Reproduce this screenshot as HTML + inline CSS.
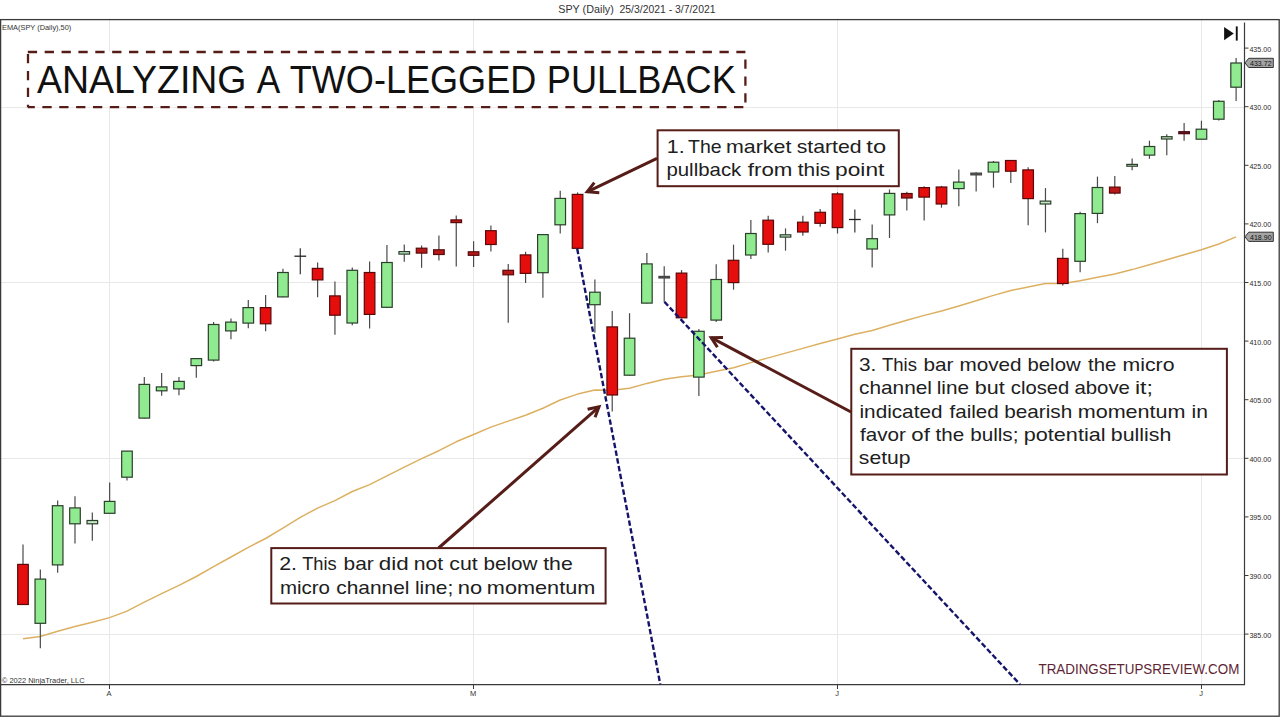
<!DOCTYPE html>
<html><head><meta charset="utf-8"><title>SPY Two-Legged Pullback</title>
<style>
html,body{margin:0;padding:0;background:#fff;}
body{width:1280px;height:717px;position:relative;overflow:hidden;font-family:"Liberation Sans",sans-serif;}
svg text{font-family:"Liberation Sans",sans-serif;}
</style></head><body>
<svg width="1280" height="717" viewBox="0 0 1280 717" style="position:absolute;left:0;top:0">
<text x="558.2" y="13.3" font-size="10.6" fill="#333" textLength="55.6" lengthAdjust="spacingAndGlyphs">SPY (Daily)</text>
<text x="619.5" y="13.3" font-size="10.6" fill="#333" textLength="96" lengthAdjust="spacingAndGlyphs">25/3/2021 - 3/7/2021</text>
<line x1="1" y1="634.5" x2="1244" y2="634.5" stroke="#e8e8e8" stroke-width="1"/>
<line x1="1" y1="458.5" x2="1244" y2="458.5" stroke="#e8e8e8" stroke-width="1"/>
<line x1="1" y1="282.5" x2="1244" y2="282.5" stroke="#e8e8e8" stroke-width="1"/>
<line x1="1" y1="107.5" x2="1244" y2="107.5" stroke="#e8e8e8" stroke-width="1"/>
<line x1="109.5" y1="20" x2="109.5" y2="684" stroke="#e8e8e8" stroke-width="1"/>
<line x1="473.5" y1="20" x2="473.5" y2="684" stroke="#e8e8e8" stroke-width="1"/>
<line x1="837.5" y1="20" x2="837.5" y2="684" stroke="#e8e8e8" stroke-width="1"/>
<line x1="1201.5" y1="20" x2="1201.5" y2="684" stroke="#e8e8e8" stroke-width="1"/>
<rect x="0.6" y="19.6" width="1278.6" height="696.6" fill="none" stroke="#3a3a3a" stroke-width="1.3"/>
<line x1="1244.5" y1="22.5" x2="1244.5" y2="685" stroke="#3a3a3a" stroke-width="1.2"/>
<line x1="0" y1="684.6" x2="1245" y2="684.6" stroke="#3a3a3a" stroke-width="1.3"/>
<line x1="1244.5" y1="634.1" x2="1248.5" y2="634.1" stroke="#3a3a3a" stroke-width="1"/>
<text x="1249.4" y="637.5" font-size="7.4" fill="#2a2a2a" textLength="21.8" lengthAdjust="spacingAndGlyphs">385.00</text>
<line x1="1244.5" y1="575.5" x2="1248.5" y2="575.5" stroke="#3a3a3a" stroke-width="1"/>
<text x="1249.4" y="578.9" font-size="7.4" fill="#2a2a2a" textLength="21.8" lengthAdjust="spacingAndGlyphs">390.00</text>
<line x1="1244.5" y1="516.9" x2="1248.5" y2="516.9" stroke="#3a3a3a" stroke-width="1"/>
<text x="1249.4" y="520.3" font-size="7.4" fill="#2a2a2a" textLength="21.8" lengthAdjust="spacingAndGlyphs">395.00</text>
<line x1="1244.5" y1="458.3" x2="1248.5" y2="458.3" stroke="#3a3a3a" stroke-width="1"/>
<text x="1249.4" y="461.7" font-size="7.4" fill="#2a2a2a" textLength="21.8" lengthAdjust="spacingAndGlyphs">400.00</text>
<line x1="1244.5" y1="399.7" x2="1248.5" y2="399.7" stroke="#3a3a3a" stroke-width="1"/>
<text x="1249.4" y="403.1" font-size="7.4" fill="#2a2a2a" textLength="21.8" lengthAdjust="spacingAndGlyphs">405.00</text>
<line x1="1244.5" y1="341.1" x2="1248.5" y2="341.1" stroke="#3a3a3a" stroke-width="1"/>
<text x="1249.4" y="344.5" font-size="7.4" fill="#2a2a2a" textLength="21.8" lengthAdjust="spacingAndGlyphs">410.00</text>
<line x1="1244.5" y1="282.5" x2="1248.5" y2="282.5" stroke="#3a3a3a" stroke-width="1"/>
<text x="1249.4" y="285.9" font-size="7.4" fill="#2a2a2a" textLength="21.8" lengthAdjust="spacingAndGlyphs">415.00</text>
<line x1="1244.5" y1="223.9" x2="1248.5" y2="223.9" stroke="#3a3a3a" stroke-width="1"/>
<text x="1249.4" y="227.3" font-size="7.4" fill="#2a2a2a" textLength="21.8" lengthAdjust="spacingAndGlyphs">420.00</text>
<line x1="1244.5" y1="165.3" x2="1248.5" y2="165.3" stroke="#3a3a3a" stroke-width="1"/>
<text x="1249.4" y="168.7" font-size="7.4" fill="#2a2a2a" textLength="21.8" lengthAdjust="spacingAndGlyphs">425.00</text>
<line x1="1244.5" y1="106.7" x2="1248.5" y2="106.7" stroke="#3a3a3a" stroke-width="1"/>
<text x="1249.4" y="110.1" font-size="7.4" fill="#2a2a2a" textLength="21.8" lengthAdjust="spacingAndGlyphs">430.00</text>
<line x1="1244.5" y1="48.1" x2="1248.5" y2="48.1" stroke="#3a3a3a" stroke-width="1"/>
<text x="1249.4" y="51.5" font-size="7.4" fill="#2a2a2a" textLength="21.8" lengthAdjust="spacingAndGlyphs">435.00</text>
<line x1="109.5" y1="684.6" x2="109.5" y2="689" stroke="#3a3a3a" stroke-width="1"/>
<text x="109.1" y="696.0" font-size="7.5" fill="#333" text-anchor="middle">A</text>
<line x1="473.5" y1="684.6" x2="473.5" y2="689" stroke="#3a3a3a" stroke-width="1"/>
<text x="473.1" y="696.0" font-size="7.5" fill="#333" text-anchor="middle">M</text>
<line x1="837.5" y1="684.6" x2="837.5" y2="689" stroke="#3a3a3a" stroke-width="1"/>
<text x="837.1" y="696.0" font-size="7.5" fill="#333" text-anchor="middle">J</text>
<line x1="1201.5" y1="684.6" x2="1201.5" y2="689" stroke="#3a3a3a" stroke-width="1"/>
<text x="1201.1" y="696.0" font-size="7.5" fill="#333" text-anchor="middle">J</text>
<text x="2" y="30.2" font-size="7.4" fill="#333" textLength="69.3" lengthAdjust="spacingAndGlyphs">EMA(SPY (Daily),50)</text>
<text x="1.8" y="682.8" font-size="7.4" fill="#333" textLength="82.8" lengthAdjust="spacingAndGlyphs">© 2022 NinjaTrader, LLC</text>
<polyline points="23.0,638.8 40.3,636.5 57.7,631.3 75.0,626.5 92.3,622.3 109.6,617.6 127.0,611.1 144.3,602.2 161.6,593.7 179.0,585.4 196.3,576.5 213.6,566.6 231.0,557.0 248.3,547.3 265.6,538.5 282.9,528.1 300.3,517.4 317.6,508.1 334.9,500.6 352.3,491.5 369.6,484.6 386.9,475.9 404.3,467.1 421.6,458.7 438.9,450.7 456.2,441.8 473.6,434.5 490.9,427.1 508.2,421.1 525.6,415.3 542.9,408.2 560.2,400.0 577.6,394.1 594.9,390.1 612.2,390.3 629.5,388.3 646.9,383.4 664.2,379.2 681.5,376.8 698.9,375.0 716.2,371.3 733.5,367.8 750.9,362.6 768.2,357.9 785.5,353.1 802.8,348.4 820.2,343.5 837.5,339.0 854.8,334.3 872.2,330.5 889.5,325.2 906.8,320.2 924.2,315.4 941.5,311.0 958.8,306.0 976.1,300.8 993.5,295.4 1010.8,290.5 1028.1,286.9 1045.5,283.6 1062.8,283.6 1080.1,280.8 1097.5,277.2 1114.8,273.9 1132.1,269.6 1149.4,264.8 1166.8,259.7 1184.1,254.8 1201.4,249.8 1218.8,244.0 1236.1,236.9" fill="none" stroke="#dcb060" stroke-width="1.5" stroke-linejoin="round"/>
<line x1="23.00" y1="544.4" x2="23.00" y2="604.9" stroke="#4a4a4a" stroke-width="1.2"/>
<rect x="17.70" y="564.4" width="10.6" height="40.1" fill="#e60d0d" stroke="#5a0808" stroke-width="1.2"/>
<line x1="40.33" y1="569.6" x2="40.33" y2="648.2" stroke="#4a4a4a" stroke-width="1.2"/>
<rect x="35.03" y="579.1" width="10.6" height="44.2" fill="#90ea90" stroke="#2c3e2c" stroke-width="1.2"/>
<line x1="57.66" y1="500.5" x2="57.66" y2="572.7" stroke="#4a4a4a" stroke-width="1.2"/>
<rect x="52.36" y="505.7" width="10.6" height="59.2" fill="#90ea90" stroke="#2c3e2c" stroke-width="1.2"/>
<line x1="74.99" y1="496.2" x2="74.99" y2="543.5" stroke="#4a4a4a" stroke-width="1.2"/>
<rect x="69.69" y="507.9" width="10.6" height="15.9" fill="#90ea90" stroke="#2c3e2c" stroke-width="1.2"/>
<line x1="92.32" y1="512.5" x2="92.32" y2="540.7" stroke="#4a4a4a" stroke-width="1.2"/>
<rect x="87.02" y="520.5" width="10.6" height="3.3" fill="#c2e8c2" stroke="#2c3e2c" stroke-width="1.2"/>
<line x1="109.65" y1="482.4" x2="109.65" y2="513.7" stroke="#4a4a4a" stroke-width="1.2"/>
<rect x="104.35" y="501.4" width="10.6" height="11.9" fill="#90ea90" stroke="#2c3e2c" stroke-width="1.2"/>
<line x1="126.98" y1="451.0" x2="126.98" y2="480.5" stroke="#4a4a4a" stroke-width="1.2"/>
<rect x="121.68" y="451.1" width="10.6" height="26.1" fill="#90ea90" stroke="#2c3e2c" stroke-width="1.2"/>
<line x1="144.31" y1="377.0" x2="144.31" y2="418.5" stroke="#4a4a4a" stroke-width="1.2"/>
<rect x="139.01" y="384.4" width="10.6" height="33.7" fill="#90ea90" stroke="#2c3e2c" stroke-width="1.2"/>
<line x1="161.64" y1="373.1" x2="161.64" y2="395.8" stroke="#4a4a4a" stroke-width="1.2"/>
<rect x="156.34" y="386.9" width="10.6" height="3.9" fill="#90ea90" stroke="#2c3e2c" stroke-width="1.2"/>
<line x1="178.97" y1="377.0" x2="178.97" y2="395.2" stroke="#4a4a4a" stroke-width="1.2"/>
<rect x="173.67" y="381.4" width="10.6" height="7.5" fill="#90ea90" stroke="#2c3e2c" stroke-width="1.2"/>
<line x1="196.30" y1="358.0" x2="196.30" y2="377.7" stroke="#4a4a4a" stroke-width="1.2"/>
<rect x="191.00" y="358.6" width="10.6" height="7.0" fill="#90ea90" stroke="#2c3e2c" stroke-width="1.2"/>
<line x1="213.63" y1="322.0" x2="213.63" y2="361.4" stroke="#4a4a4a" stroke-width="1.2"/>
<rect x="208.33" y="324.5" width="10.6" height="35.6" fill="#90ea90" stroke="#2c3e2c" stroke-width="1.2"/>
<line x1="230.96" y1="318.4" x2="230.96" y2="339.3" stroke="#4a4a4a" stroke-width="1.2"/>
<rect x="225.66" y="322.1" width="10.6" height="8.8" fill="#90ea90" stroke="#2c3e2c" stroke-width="1.2"/>
<line x1="248.29" y1="300.0" x2="248.29" y2="328.3" stroke="#4a4a4a" stroke-width="1.2"/>
<rect x="242.99" y="307.6" width="10.6" height="15.5" fill="#90ea90" stroke="#2c3e2c" stroke-width="1.2"/>
<line x1="265.62" y1="295.1" x2="265.62" y2="331.3" stroke="#4a4a4a" stroke-width="1.2"/>
<rect x="260.32" y="307.6" width="10.6" height="16.2" fill="#e60d0d" stroke="#5a0808" stroke-width="1.2"/>
<line x1="282.95" y1="268.8" x2="282.95" y2="297.3" stroke="#4a4a4a" stroke-width="1.2"/>
<rect x="277.65" y="272.5" width="10.6" height="24.4" fill="#90ea90" stroke="#2c3e2c" stroke-width="1.2"/>
<line x1="300.28" y1="248.2" x2="300.28" y2="274.2" stroke="#333" stroke-width="1.2"/>
<line x1="294.38" y1="256.2" x2="306.18" y2="256.2" stroke="#222" stroke-width="1.3"/>
<line x1="317.61" y1="262.5" x2="317.61" y2="297.3" stroke="#4a4a4a" stroke-width="1.2"/>
<rect x="312.31" y="268.4" width="10.6" height="11.5" fill="#e60d0d" stroke="#5a0808" stroke-width="1.2"/>
<line x1="334.94" y1="281.4" x2="334.94" y2="334.8" stroke="#4a4a4a" stroke-width="1.2"/>
<rect x="329.64" y="295.9" width="10.6" height="19.3" fill="#e60d0d" stroke="#5a0808" stroke-width="1.2"/>
<line x1="352.27" y1="267.4" x2="352.27" y2="325.2" stroke="#4a4a4a" stroke-width="1.2"/>
<rect x="346.97" y="270.3" width="10.6" height="52.7" fill="#90ea90" stroke="#2c3e2c" stroke-width="1.2"/>
<line x1="369.60" y1="261.5" x2="369.60" y2="328.5" stroke="#4a4a4a" stroke-width="1.2"/>
<rect x="364.30" y="272.5" width="10.6" height="41.9" fill="#e60d0d" stroke="#5a0808" stroke-width="1.2"/>
<line x1="386.93" y1="244.9" x2="386.93" y2="307.7" stroke="#4a4a4a" stroke-width="1.2"/>
<rect x="381.63" y="262.5" width="10.6" height="44.8" fill="#90ea90" stroke="#2c3e2c" stroke-width="1.2"/>
<line x1="404.26" y1="244.5" x2="404.26" y2="261.7" stroke="#4a4a4a" stroke-width="1.2"/>
<rect x="398.96" y="251.6" width="10.6" height="2.5" fill="#c2e8c2" stroke="#2c3e2c" stroke-width="1.2"/>
<line x1="421.59" y1="245.5" x2="421.59" y2="267.8" stroke="#4a4a4a" stroke-width="1.2"/>
<rect x="416.29" y="248.2" width="10.6" height="4.9" fill="#b81818" stroke="#5a0808" stroke-width="1.2"/>
<line x1="438.92" y1="235.4" x2="438.92" y2="260.5" stroke="#4a4a4a" stroke-width="1.2"/>
<rect x="433.62" y="249.8" width="10.6" height="4.7" fill="#b81818" stroke="#5a0808" stroke-width="1.2"/>
<line x1="456.25" y1="215.6" x2="456.25" y2="266.4" stroke="#4a4a4a" stroke-width="1.2"/>
<rect x="450.95" y="219.9" width="10.6" height="2.7" fill="#b81818" stroke="#5a0808" stroke-width="1.2"/>
<line x1="473.58" y1="241.2" x2="473.58" y2="267.0" stroke="#4a4a4a" stroke-width="1.2"/>
<rect x="468.28" y="251.8" width="10.6" height="3.5" fill="#b81818" stroke="#5a0808" stroke-width="1.2"/>
<line x1="490.91" y1="225.4" x2="490.91" y2="251.6" stroke="#4a4a4a" stroke-width="1.2"/>
<rect x="485.61" y="230.7" width="10.6" height="13.8" fill="#e60d0d" stroke="#5a0808" stroke-width="1.2"/>
<line x1="508.24" y1="263.9" x2="508.24" y2="322.7" stroke="#4a4a4a" stroke-width="1.2"/>
<rect x="502.94" y="270.3" width="10.6" height="4.5" fill="#b81818" stroke="#5a0808" stroke-width="1.2"/>
<line x1="525.57" y1="251.8" x2="525.57" y2="283.0" stroke="#4a4a4a" stroke-width="1.2"/>
<rect x="520.27" y="254.9" width="10.6" height="18.5" fill="#e60d0d" stroke="#5a0808" stroke-width="1.2"/>
<line x1="542.90" y1="234.0" x2="542.90" y2="297.8" stroke="#4a4a4a" stroke-width="1.2"/>
<rect x="537.60" y="234.6" width="10.6" height="38.1" fill="#90ea90" stroke="#2c3e2c" stroke-width="1.2"/>
<line x1="560.23" y1="190.7" x2="560.23" y2="233.6" stroke="#4a4a4a" stroke-width="1.2"/>
<rect x="554.93" y="198.4" width="10.6" height="26.4" fill="#90ea90" stroke="#2c3e2c" stroke-width="1.2"/>
<line x1="577.56" y1="192.4" x2="577.56" y2="248.7" stroke="#4a4a4a" stroke-width="1.2"/>
<rect x="572.26" y="194.4" width="10.6" height="53.9" fill="#e60d0d" stroke="#5a0808" stroke-width="1.2"/>
<line x1="594.89" y1="279.4" x2="594.89" y2="332.8" stroke="#4a4a4a" stroke-width="1.2"/>
<rect x="589.59" y="292.2" width="10.6" height="12.5" fill="#90ea90" stroke="#2c3e2c" stroke-width="1.2"/>
<line x1="612.22" y1="311.0" x2="612.22" y2="411.6" stroke="#4a4a4a" stroke-width="1.2"/>
<rect x="606.92" y="326.9" width="10.6" height="68.1" fill="#e60d0d" stroke="#5a0808" stroke-width="1.2"/>
<line x1="629.55" y1="313.2" x2="629.55" y2="375.6" stroke="#4a4a4a" stroke-width="1.2"/>
<rect x="624.25" y="338.2" width="10.6" height="37.0" fill="#90ea90" stroke="#2c3e2c" stroke-width="1.2"/>
<line x1="646.88" y1="253.0" x2="646.88" y2="303.5" stroke="#4a4a4a" stroke-width="1.2"/>
<rect x="641.58" y="263.9" width="10.6" height="39.2" fill="#90ea90" stroke="#2c3e2c" stroke-width="1.2"/>
<line x1="664.21" y1="266.2" x2="664.21" y2="301.8" stroke="#4a4a4a" stroke-width="1.2"/>
<rect x="658.91" y="276.4" width="10.6" height="1.6" fill="#555" stroke="#444" stroke-width="1.2"/>
<line x1="681.54" y1="270.1" x2="681.54" y2="318.2" stroke="#4a4a4a" stroke-width="1.2"/>
<rect x="676.24" y="273.1" width="10.6" height="44.7" fill="#e60d0d" stroke="#5a0808" stroke-width="1.2"/>
<line x1="698.87" y1="329.0" x2="698.87" y2="396.0" stroke="#4a4a4a" stroke-width="1.2"/>
<rect x="693.57" y="331.3" width="10.6" height="45.8" fill="#90ea90" stroke="#2c3e2c" stroke-width="1.2"/>
<line x1="716.20" y1="264.2" x2="716.20" y2="322.0" stroke="#4a4a4a" stroke-width="1.2"/>
<rect x="710.90" y="279.5" width="10.6" height="40.6" fill="#90ea90" stroke="#2c3e2c" stroke-width="1.2"/>
<line x1="733.53" y1="244.6" x2="733.53" y2="289.7" stroke="#4a4a4a" stroke-width="1.2"/>
<rect x="728.23" y="260.3" width="10.6" height="22.3" fill="#e60d0d" stroke="#5a0808" stroke-width="1.2"/>
<line x1="750.86" y1="220.1" x2="750.86" y2="258.9" stroke="#4a4a4a" stroke-width="1.2"/>
<rect x="745.56" y="233.5" width="10.6" height="21.5" fill="#90ea90" stroke="#2c3e2c" stroke-width="1.2"/>
<line x1="768.19" y1="215.7" x2="768.19" y2="252.5" stroke="#4a4a4a" stroke-width="1.2"/>
<rect x="762.89" y="220.2" width="10.6" height="24.1" fill="#e60d0d" stroke="#5a0808" stroke-width="1.2"/>
<line x1="785.52" y1="228.4" x2="785.52" y2="250.7" stroke="#4a4a4a" stroke-width="1.2"/>
<rect x="780.22" y="234.8" width="10.6" height="2.3" fill="#c2e8c2" stroke="#2c3e2c" stroke-width="1.2"/>
<line x1="802.85" y1="215.7" x2="802.85" y2="235.7" stroke="#4a4a4a" stroke-width="1.2"/>
<rect x="797.55" y="222.2" width="10.6" height="9.8" fill="#e60d0d" stroke="#5a0808" stroke-width="1.2"/>
<line x1="820.18" y1="209.0" x2="820.18" y2="226.8" stroke="#4a4a4a" stroke-width="1.2"/>
<rect x="814.88" y="212.3" width="10.6" height="11.0" fill="#e60d0d" stroke="#5a0808" stroke-width="1.2"/>
<line x1="837.51" y1="192.1" x2="837.51" y2="233.5" stroke="#4a4a4a" stroke-width="1.2"/>
<rect x="832.21" y="193.9" width="10.6" height="33.7" fill="#e60d0d" stroke="#5a0808" stroke-width="1.2"/>
<line x1="854.84" y1="209.4" x2="854.84" y2="232.6" stroke="#333" stroke-width="1.2"/>
<line x1="848.94" y1="219.5" x2="860.74" y2="219.5" stroke="#222" stroke-width="1.3"/>
<line x1="872.17" y1="224.4" x2="872.17" y2="267.6" stroke="#4a4a4a" stroke-width="1.2"/>
<rect x="866.87" y="238.7" width="10.6" height="10.3" fill="#90ea90" stroke="#2c3e2c" stroke-width="1.2"/>
<line x1="889.50" y1="189.5" x2="889.50" y2="238.0" stroke="#4a4a4a" stroke-width="1.2"/>
<rect x="884.20" y="193.4" width="10.6" height="21.5" fill="#90ea90" stroke="#2c3e2c" stroke-width="1.2"/>
<line x1="906.83" y1="191.7" x2="906.83" y2="210.4" stroke="#4a4a4a" stroke-width="1.2"/>
<rect x="901.53" y="193.5" width="10.6" height="4.5" fill="#b81818" stroke="#5a0808" stroke-width="1.2"/>
<line x1="924.16" y1="186.3" x2="924.16" y2="220.4" stroke="#4a4a4a" stroke-width="1.2"/>
<rect x="918.86" y="187.6" width="10.6" height="9.5" fill="#e60d0d" stroke="#5a0808" stroke-width="1.2"/>
<line x1="941.49" y1="185.9" x2="941.49" y2="207.7" stroke="#4a4a4a" stroke-width="1.2"/>
<rect x="936.19" y="187.0" width="10.6" height="17.0" fill="#e60d0d" stroke="#5a0808" stroke-width="1.2"/>
<line x1="958.82" y1="169.6" x2="958.82" y2="206.2" stroke="#4a4a4a" stroke-width="1.2"/>
<rect x="953.52" y="182.1" width="10.6" height="6.5" fill="#90ea90" stroke="#2c3e2c" stroke-width="1.2"/>
<line x1="976.15" y1="172.3" x2="976.15" y2="191.5" stroke="#4a4a4a" stroke-width="1.2"/>
<rect x="970.85" y="173.1" width="10.6" height="1.8" fill="#555" stroke="#444" stroke-width="1.2"/>
<line x1="993.48" y1="161.0" x2="993.48" y2="187.7" stroke="#4a4a4a" stroke-width="1.2"/>
<rect x="988.18" y="162.2" width="10.6" height="9.8" fill="#90ea90" stroke="#2c3e2c" stroke-width="1.2"/>
<line x1="1010.81" y1="160.0" x2="1010.81" y2="182.9" stroke="#4a4a4a" stroke-width="1.2"/>
<rect x="1005.51" y="160.5" width="10.6" height="10.7" fill="#e60d0d" stroke="#5a0808" stroke-width="1.2"/>
<line x1="1028.14" y1="167.2" x2="1028.14" y2="225.3" stroke="#4a4a4a" stroke-width="1.2"/>
<rect x="1022.84" y="169.9" width="10.6" height="28.7" fill="#e60d0d" stroke="#5a0808" stroke-width="1.2"/>
<line x1="1045.47" y1="188.1" x2="1045.47" y2="232.4" stroke="#4a4a4a" stroke-width="1.2"/>
<rect x="1040.17" y="201.1" width="10.6" height="2.9" fill="#c2e8c2" stroke="#2c3e2c" stroke-width="1.2"/>
<line x1="1062.80" y1="248.8" x2="1062.80" y2="285.4" stroke="#4a4a4a" stroke-width="1.2"/>
<rect x="1057.50" y="258.4" width="10.6" height="25.1" fill="#e60d0d" stroke="#5a0808" stroke-width="1.2"/>
<line x1="1080.13" y1="211.7" x2="1080.13" y2="272.2" stroke="#4a4a4a" stroke-width="1.2"/>
<rect x="1074.83" y="213.6" width="10.6" height="47.7" fill="#90ea90" stroke="#2c3e2c" stroke-width="1.2"/>
<line x1="1097.46" y1="176.6" x2="1097.46" y2="223.2" stroke="#4a4a4a" stroke-width="1.2"/>
<rect x="1092.16" y="187.5" width="10.6" height="25.9" fill="#90ea90" stroke="#2c3e2c" stroke-width="1.2"/>
<line x1="1114.79" y1="176.0" x2="1114.79" y2="194.4" stroke="#4a4a4a" stroke-width="1.2"/>
<rect x="1109.49" y="187.1" width="10.6" height="6.0" fill="#b81818" stroke="#5a0808" stroke-width="1.2"/>
<line x1="1132.12" y1="158.4" x2="1132.12" y2="170.2" stroke="#4a4a4a" stroke-width="1.2"/>
<rect x="1126.82" y="164.4" width="10.6" height="1.8" fill="#c2e8c2" stroke="#2c3e2c" stroke-width="1.2"/>
<line x1="1149.45" y1="140.7" x2="1149.45" y2="158.8" stroke="#4a4a4a" stroke-width="1.2"/>
<rect x="1144.15" y="146.5" width="10.6" height="8.6" fill="#90ea90" stroke="#2c3e2c" stroke-width="1.2"/>
<line x1="1166.78" y1="134.3" x2="1166.78" y2="155.2" stroke="#4a4a4a" stroke-width="1.2"/>
<rect x="1161.48" y="136.7" width="10.6" height="2.3" fill="#c2e8c2" stroke="#2c3e2c" stroke-width="1.2"/>
<line x1="1184.11" y1="123.1" x2="1184.11" y2="140.7" stroke="#4a4a4a" stroke-width="1.2"/>
<rect x="1178.81" y="131.7" width="10.6" height="2.0" fill="#6a1020" stroke="#4a0a14" stroke-width="1.2"/>
<line x1="1201.44" y1="120.7" x2="1201.44" y2="139.6" stroke="#4a4a4a" stroke-width="1.2"/>
<rect x="1196.14" y="129.2" width="10.6" height="10.0" fill="#90ea90" stroke="#2c3e2c" stroke-width="1.2"/>
<line x1="1218.77" y1="99.9" x2="1218.77" y2="120.4" stroke="#4a4a4a" stroke-width="1.2"/>
<rect x="1213.47" y="101.3" width="10.6" height="17.9" fill="#90ea90" stroke="#2c3e2c" stroke-width="1.2"/>
<line x1="1236.10" y1="57.9" x2="1236.10" y2="101.0" stroke="#4a4a4a" stroke-width="1.2"/>
<rect x="1230.80" y="63.0" width="10.6" height="24.2" fill="#90ea90" stroke="#2c3e2c" stroke-width="1.2"/>
<line x1="577.2" y1="248.8" x2="660.3" y2="684.4" stroke="#14146a" stroke-width="2.4" stroke-dasharray="5.4 2.5"/>
<line x1="664.4" y1="301.8" x2="1020" y2="684.4" stroke="#14146a" stroke-width="2.4" stroke-dasharray="5.4 2.5"/>
<rect x="28" y="52" width="717.4" height="55.2" fill="#fff" stroke="none"/>
<line x1="27.8" y1="52" x2="745.4" y2="52" stroke="#561c18" stroke-width="2.3" stroke-dasharray="9.3 7.57"/>
<line x1="28" y1="52" x2="28" y2="107.2" stroke="#561c18" stroke-width="2.3" stroke-dasharray="9.3 7.57" stroke-dashoffset="14.84"/>
<line x1="745.4" y1="52" x2="745.4" y2="107.2" stroke="#561c18" stroke-width="2.3" stroke-dasharray="9.3 7.57" stroke-dashoffset="9.3"/>
<line x1="27.8" y1="107.2" x2="745.4" y2="107.2" stroke="#561c18" stroke-width="2.3" stroke-dasharray="9.3 7.57" stroke-dashoffset="2.3"/>
<text x="36.90" y="92.6" font-size="38" fill="#111" textLength="209.63" lengthAdjust="spacingAndGlyphs">ANALYZING</text>
<text x="256.70" y="92.6" font-size="38" fill="#111" textLength="23.53" lengthAdjust="spacingAndGlyphs">A</text>
<text x="289.75" y="92.6" font-size="38" fill="#111" textLength="246.55" lengthAdjust="spacingAndGlyphs">TWO-LEGGED</text>
<text x="546.84" y="92.6" font-size="38" fill="#111" textLength="188.98" lengthAdjust="spacingAndGlyphs">PULLBACK</text>
<line x1="657" y1="158.4" x2="587.2" y2="191.8" stroke="#561c18" stroke-width="3"/>
<polyline points="594.3,182.6 587.2,191.8 599.3,192.7" fill="none" stroke="#561c18" stroke-width="3" stroke-linejoin="miter"/>
<line x1="438.6" y1="548" x2="599.0" y2="406.9" stroke="#561c18" stroke-width="3"/>
<polyline points="587.6,409.3 599.0,406.9 595.1,417.2" fill="none" stroke="#561c18" stroke-width="3" stroke-linejoin="miter"/>
<line x1="851" y1="412" x2="711.2" y2="337.6" stroke="#561c18" stroke-width="3"/>
<polyline points="723,337.4 711.2,337.6 717.4,347.2" fill="none" stroke="#561c18" stroke-width="3" stroke-linejoin="miter"/>
<rect x="657.6" y="130.3" width="241.2" height="55.9" fill="#fff" stroke="#561c18" stroke-width="2"/>
<rect x="271.3" y="548.1" width="334.3" height="55.4" fill="#fff" stroke="#561c18" stroke-width="2"/>
<rect x="851.3" y="348.8" width="375.6" height="125.7" fill="#fff" stroke="#561c18" stroke-width="2"/>
<text x="666.78" y="152.9" font-size="19" fill="#202020" textLength="17.81" lengthAdjust="spacingAndGlyphs">1.</text>
<text x="688.10" y="152.9" font-size="19" fill="#202020" textLength="33.57" lengthAdjust="spacingAndGlyphs">The</text>
<text x="725.97" y="152.9" font-size="19" fill="#202020" textLength="65.41" lengthAdjust="spacingAndGlyphs">market</text>
<text x="796.68" y="152.9" font-size="19" fill="#202020" textLength="64.84" lengthAdjust="spacingAndGlyphs">started</text>
<text x="866.30" y="152.9" font-size="19" fill="#202020" textLength="19.77" lengthAdjust="spacingAndGlyphs">to</text>
<text x="666.43" y="176.3" font-size="19" fill="#202020" textLength="74.87" lengthAdjust="spacingAndGlyphs">pullback</text>
<text x="747.80" y="176.3" font-size="19" fill="#202020" textLength="44.68" lengthAdjust="spacingAndGlyphs">from</text>
<text x="797.80" y="176.3" font-size="19" fill="#202020" textLength="32.54" lengthAdjust="spacingAndGlyphs">this</text>
<text x="835.10" y="176.3" font-size="19" fill="#202020" textLength="49.24" lengthAdjust="spacingAndGlyphs">point</text>
<text x="279.18" y="570.3" font-size="19" fill="#202020" textLength="17.81" lengthAdjust="spacingAndGlyphs">2.</text>
<text x="302.20" y="570.3" font-size="19" fill="#202020" textLength="34.51" lengthAdjust="spacingAndGlyphs">This</text>
<text x="343.60" y="570.3" font-size="19" fill="#202020" textLength="30.22" lengthAdjust="spacingAndGlyphs">bar</text>
<text x="378.72" y="570.3" font-size="19" fill="#202020" textLength="29.88" lengthAdjust="spacingAndGlyphs">did</text>
<text x="413.69" y="570.3" font-size="19" fill="#202020" textLength="29.42" lengthAdjust="spacingAndGlyphs">not</text>
<text x="449.28" y="570.3" font-size="19" fill="#202020" textLength="28.42" lengthAdjust="spacingAndGlyphs">cut</text>
<text x="483.41" y="570.3" font-size="19" fill="#202020" textLength="54.12" lengthAdjust="spacingAndGlyphs">below</text>
<text x="543.20" y="570.3" font-size="19" fill="#202020" textLength="29.57" lengthAdjust="spacingAndGlyphs">the</text>
<text x="279.92" y="593.6" font-size="19" fill="#202020" textLength="50.07" lengthAdjust="spacingAndGlyphs">micro</text>
<text x="336.30" y="593.6" font-size="19" fill="#202020" textLength="73.22" lengthAdjust="spacingAndGlyphs">channel</text>
<text x="414.90" y="593.6" font-size="19" fill="#202020" textLength="38.35" lengthAdjust="spacingAndGlyphs">line;</text>
<text x="457.85" y="593.6" font-size="19" fill="#202020" textLength="24.37" lengthAdjust="spacingAndGlyphs">no</text>
<text x="486.86" y="593.6" font-size="19" fill="#202020" textLength="108.42" lengthAdjust="spacingAndGlyphs">momentum</text>
<text x="859.01" y="370.8" font-size="19" fill="#202020" textLength="17.32" lengthAdjust="spacingAndGlyphs">3.</text>
<text x="881.90" y="370.8" font-size="19" fill="#202020" textLength="35.01" lengthAdjust="spacingAndGlyphs">This</text>
<text x="923.51" y="370.8" font-size="19" fill="#202020" textLength="30.00" lengthAdjust="spacingAndGlyphs">bar</text>
<text x="959.51" y="370.8" font-size="19" fill="#202020" textLength="62.11" lengthAdjust="spacingAndGlyphs">moved</text>
<text x="1027.53" y="370.8" font-size="19" fill="#202020" textLength="53.10" lengthAdjust="spacingAndGlyphs">below</text>
<text x="1088.10" y="370.8" font-size="19" fill="#202020" textLength="28.35" lengthAdjust="spacingAndGlyphs">the</text>
<text x="1122.58" y="370.8" font-size="19" fill="#202020" textLength="51.92" lengthAdjust="spacingAndGlyphs">micro</text>
<text x="859.00" y="394.2" font-size="19" fill="#202020" textLength="72.91" lengthAdjust="spacingAndGlyphs">channel</text>
<text x="936.71" y="394.2" font-size="19" fill="#202020" textLength="32.32" lengthAdjust="spacingAndGlyphs">line</text>
<text x="974.67" y="394.2" font-size="19" fill="#202020" textLength="29.98" lengthAdjust="spacingAndGlyphs">but</text>
<text x="1010.84" y="394.2" font-size="19" fill="#202020" textLength="58.34" lengthAdjust="spacingAndGlyphs">closed</text>
<text x="1074.43" y="394.2" font-size="19" fill="#202020" textLength="55.51" lengthAdjust="spacingAndGlyphs">above</text>
<text x="1134.98" y="394.2" font-size="19" fill="#202020" textLength="17.98" lengthAdjust="spacingAndGlyphs">it;</text>
<text x="859.51" y="417.5" font-size="19" fill="#202020" textLength="82.95" lengthAdjust="spacingAndGlyphs">indicated</text>
<text x="949.50" y="417.5" font-size="19" fill="#202020" textLength="49.14" lengthAdjust="spacingAndGlyphs">failed</text>
<text x="1004.21" y="417.5" font-size="19" fill="#202020" textLength="68.04" lengthAdjust="spacingAndGlyphs">bearish</text>
<text x="1077.66" y="417.5" font-size="19" fill="#202020" textLength="107.91" lengthAdjust="spacingAndGlyphs">momentum</text>
<text x="1191.49" y="417.5" font-size="19" fill="#202020" textLength="16.39" lengthAdjust="spacingAndGlyphs">in</text>
<text x="860.00" y="440.8" font-size="19" fill="#202020" textLength="45.87" lengthAdjust="spacingAndGlyphs">favor</text>
<text x="911.33" y="440.8" font-size="19" fill="#202020" textLength="18.50" lengthAdjust="spacingAndGlyphs">of</text>
<text x="935.60" y="440.8" font-size="19" fill="#202020" textLength="28.61" lengthAdjust="spacingAndGlyphs">the</text>
<text x="970.16" y="440.8" font-size="19" fill="#202020" textLength="48.32" lengthAdjust="spacingAndGlyphs">bulls;</text>
<text x="1023.76" y="440.8" font-size="19" fill="#202020" textLength="81.80" lengthAdjust="spacingAndGlyphs">potential</text>
<text x="1110.78" y="440.8" font-size="19" fill="#202020" textLength="60.61" lengthAdjust="spacingAndGlyphs">bullish</text>
<text x="858.89" y="464.1" font-size="19" fill="#202020" textLength="51.65" lengthAdjust="spacingAndGlyphs">setup</text>
<text x="1038.50" y="673.9" font-size="14" fill="#5e2434" textLength="200.79" lengthAdjust="spacingAndGlyphs">TRADINGSETUPSREVIEW.COM</text>
<polygon points="1224.1,27.1 1233.8,33.6 1224.1,40.3" fill="#111"/>
<rect x="1235.8" y="26.4" width="1.9" height="14.2" fill="#111"/>
<polygon points="1245,62.9 1248.7,58.3 1273.3,58.3 1273.3,67.5 1248.7,67.5" fill="#a4a4a4" stroke="#333" stroke-width="1"/>
<text x="1250" y="65.7" font-size="7.2" fill="#111" textLength="21.6" lengthAdjust="spacingAndGlyphs">433.72</text>
<polygon points="1245,236.8 1248.7,232.20000000000002 1273.3,232.20000000000002 1273.3,241.4 1248.7,241.4" fill="#a4a4a4" stroke="#333" stroke-width="1"/>
<text x="1250" y="239.60000000000002" font-size="7.2" fill="#111" textLength="21.6" lengthAdjust="spacingAndGlyphs">418.90</text>
</svg>
</body></html>
